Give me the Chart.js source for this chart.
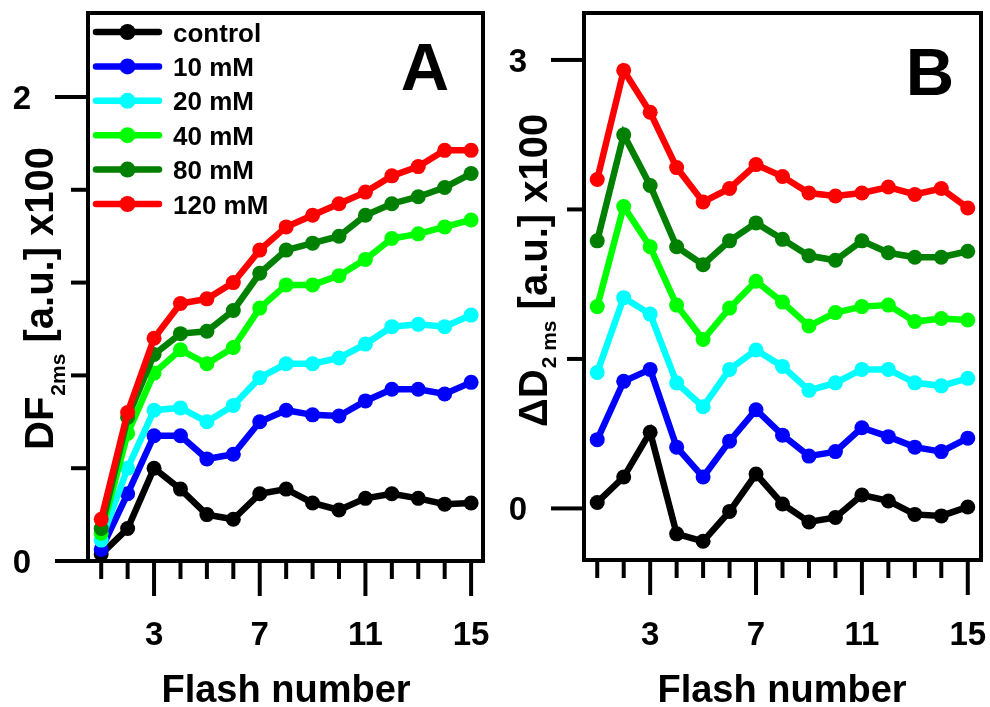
<!DOCTYPE html>
<html>
<head>
<meta charset="utf-8">
<script src="https://cdn.jsdelivr.net/npm/chart.js@4.4.0/dist/chart.umd.min.js"></script>
<style>
    html, body { margin: 0; padding: 0; background: #fff; }
    #wrap { position: relative; width: 990px; height: 707px; }
    canvas { position: absolute; top: 0; }
    #chartA { left: 0; }
    #chartB { left: 495px; }
</style>
</head>
<body>
<div id="wrap">
    <canvas id="chartA" width="495" height="707"></canvas>
    <canvas id="chartB" width="495" height="707"></canvas>
</div>
<script>
// flash numbers and tick labels
const flashNumbers = [1, 2, 3, 4, 5, 6, 7, 8, 9, 10, 11, 12, 13, 14, 15];
const xTickLabels = [3, 7, 11, 15];
const yTicksA = [0, 0.4, 0.8, 1.2, 1.6, 2.0];
const yLabelsA = [0, 2];
const yTicksB = [0, 1, 2, 3];
const yLabelsB = [0, 3];

const seriesLabels = ['control', '10 mM', '20 mM', '40 mM', '80 mM', '120 mM'];
const seriesColors = ['#000000', '#0000ff', '#00ffff', '#00ff00', '#008000', '#ff0000'];

// panel A: DF 2ms
const dfControl = [0.03, 0.14, 0.40, 0.31, 0.20, 0.18, 0.29, 0.31, 0.25, 0.22, 0.27, 0.29, 0.27, 0.245, 0.25];
const df10 = [0.05, 0.29, 0.54, 0.54, 0.44, 0.46, 0.60, 0.65, 0.63, 0.625, 0.69, 0.74, 0.74, 0.72, 0.77];
const df20 = [0.09, 0.40, 0.65, 0.66, 0.60, 0.67, 0.79, 0.85, 0.85, 0.875, 0.935, 1.01, 1.02, 1.01, 1.06];
const df40 = [0.12, 0.55, 0.81, 0.91, 0.85, 0.92, 1.09, 1.19, 1.19, 1.23, 1.30, 1.39, 1.41, 1.44, 1.47];
const df80 = [0.14, 0.62, 0.89, 0.98, 0.99, 1.08, 1.24, 1.34, 1.37, 1.40, 1.49, 1.54, 1.57, 1.61, 1.67];
const df120 = [0.18, 0.64, 0.96, 1.11, 1.13, 1.20, 1.34, 1.44, 1.49, 1.54, 1.59, 1.66, 1.70, 1.77, 1.77];

// panel B: delta D 2 ms
const dControl = [0.04, 0.21, 0.51, -0.17, -0.22, -0.02, 0.23, 0.03, -0.09, -0.06, 0.09, 0.05, -0.04, -0.05, 0.01];
const d10 = [0.46, 0.85, 0.93, 0.41, 0.21, 0.45, 0.66, 0.49, 0.35, 0.38, 0.54, 0.48, 0.41, 0.38, 0.47];
const d20 = [0.91, 1.41, 1.30, 0.84, 0.68, 0.93, 1.06, 0.95, 0.79, 0.84, 0.93, 0.93, 0.84, 0.82, 0.87];
const d40 = [1.35, 2.02, 1.75, 1.36, 1.13, 1.34, 1.52, 1.38, 1.22, 1.31, 1.35, 1.36, 1.25, 1.27, 1.26];
const d80 = [1.79, 2.50, 2.16, 1.75, 1.63, 1.79, 1.91, 1.80, 1.69, 1.66, 1.79, 1.71, 1.68, 1.68, 1.72];
const d120 = [2.20, 2.93, 2.65, 2.28, 2.05, 2.14, 2.30, 2.22, 2.11, 2.09, 2.11, 2.15, 2.10, 2.14, 2.01];

const FONT = '"Liberation Sans", Arial, sans-serif';

function makeDatasets(seriesList) {
    return seriesList.map((values, i) => ({
        label: seriesLabels[i],
        data: values.map((v, k) => ({x: flashNumbers[k], y: v})),
        borderColor: seriesColors[i],
        backgroundColor: seriesColors[i],
        pointBackgroundColor: seriesColors[i],
        borderWidth: 6.5,
        pointRadius: 7.5,
        pointBorderWidth: 0,
        tension: 0,
        clip: 0,
        order: seriesList.length - 1 - i
    }));
}

// box, ticks, labels, titles and legend
const framePlugin = {
    id: 'frame',
    afterDraw(chart, args, o) {
        const ctx = chart.ctx;
        const area = chart.chartArea;
        const xs = chart.scales.x;
        const ys = chart.scales.y;
        ctx.save();
        ctx.strokeStyle = '#000';
        ctx.fillStyle = '#000';
        ctx.lineWidth = 4;
        ctx.lineCap = 'butt';
        ctx.strokeRect(area.left, area.top, area.right - area.left, area.bottom - area.top);

        // x ticks
        ctx.font = 'bold 33px ' + FONT;
        ctx.textAlign = 'center';
        ctx.textBaseline = 'alphabetic';
        flashNumbers.forEach((n) => {
            const px = xs.getPixelForValue(n);
            const major = xTickLabels.includes(n);
            ctx.beginPath();
            ctx.moveTo(px, area.bottom + 2);
            ctx.lineTo(px, area.bottom + (major ? 35 : 18));
            ctx.stroke();
            if (major) {
                ctx.fillText(String(n), px, 645);
            }
        });

        // y ticks
        o.yTicks.forEach((v) => {
            const py = ys.getPixelForValue(v);
            const major = o.yLabels.includes(v);
            ctx.beginPath();
            ctx.moveTo(area.left - 2, py);
            ctx.lineTo(area.left - (major ? 33 : 17), py);
            ctx.stroke();
            if (major) {
                ctx.fillText(String(v), o.yLabelX, py + 12);
            }
        });

        // x title
        ctx.font = 'bold 38px ' + FONT;
        ctx.fillText('Flash number', o.xTitleX, 702);

        // y title, rotated, with subscript
        ctx.save();
        ctx.translate(o.yTitleX, o.yTitleY);
        ctx.rotate(-Math.PI / 2);
        ctx.textAlign = 'left';
        ctx.font = 'bold 40px ' + FONT;
        let x = 0;
        ctx.fillText(o.yTitle[0], x, 0);
        x += ctx.measureText(o.yTitle[0]).width;
        ctx.font = 'bold 21px ' + FONT;
        ctx.fillText(o.yTitle[1], x + 1, o.subShift);
        x += ctx.measureText(o.yTitle[1]).width + 1;
        ctx.font = 'bold 40px ' + FONT;
        ctx.fillText(o.yTitle[2], x, 0);
        ctx.restore();

        // panel letter
        ctx.font = 'bold 67px ' + FONT;
        ctx.textAlign = 'center';
        ctx.fillText(o.letter, o.letterX, o.letterY);

        // legend
        if (o.legend) {
            ctx.font = 'bold 26px ' + FONT;
            ctx.textAlign = 'left';
            chart.data.datasets.forEach((ds, i) => {
                const rowY = 32 + i * 34.4;
                ctx.strokeStyle = ds.borderColor;
                ctx.fillStyle = ds.borderColor;
                ctx.lineWidth = 6.5;
                ctx.lineCap = 'round';
                ctx.beginPath();
                ctx.moveTo(96, rowY);
                ctx.lineTo(159, rowY);
                ctx.stroke();
                ctx.beginPath();
                ctx.arc(127.5, rowY, 8, 0, Math.PI * 2);
                ctx.fill();
                ctx.fillStyle = '#000';
                ctx.fillText(ds.label, 173, rowY + 9.5);
            });
        }
        ctx.restore();
    }
};

function makeChart(canvasId, seriesList, yMin, yMax, xMax, padding, frame) {
    return new Chart(document.getElementById(canvasId), {
        type: 'line',
        data: {datasets: makeDatasets(seriesList)},
        options: {
            responsive: false,
            animation: false,
            layout: {padding: padding},
            plugins: {
                legend: {display: false},
                tooltip: {enabled: false},
                frame: frame
            },
            scales: {
                x: {type: 'linear', min: 0.5, max: xMax, display: false},
                y: {type: 'linear', min: yMin, max: yMax, display: false}
            }
        },
        plugins: [framePlugin]
    });
}

makeChart('chartA', [dfControl, df10, df20, df40, df80, df120], 0, 2.362, 15.45,
    {left: 88, right: 12, top: 13, bottom: 146},
    {
        yTicks: yTicksA, yLabels: yLabelsA, yLabelX: 22,
        yTitle: ['DF', '2ms', ' [a.u.] x100'], yTitleX: 53, yTitleY: 450, subShift: 12,
        xTitleX: 286, letter: 'A', letterX: 425, letterY: 90, legend: true
    });

makeChart('chartB', [dControl, d10, d20, d40, d80, d120], -0.345, 3.314, 15.5,
    {left: 89, right: 9, top: 13, bottom: 147},
    {
        yTicks: yTicksB, yLabels: yLabelsB, yLabelX: 23,
        yTitle: ['ΔD', '2 ms', ' [a.u.] x100'], yTitleX: 52, yTitleY: 427, subShift: 9,
        xTitleX: 287, letter: 'B', letterX: 435, letterY: 95, legend: false
    });
</script>
</body>
</html>
